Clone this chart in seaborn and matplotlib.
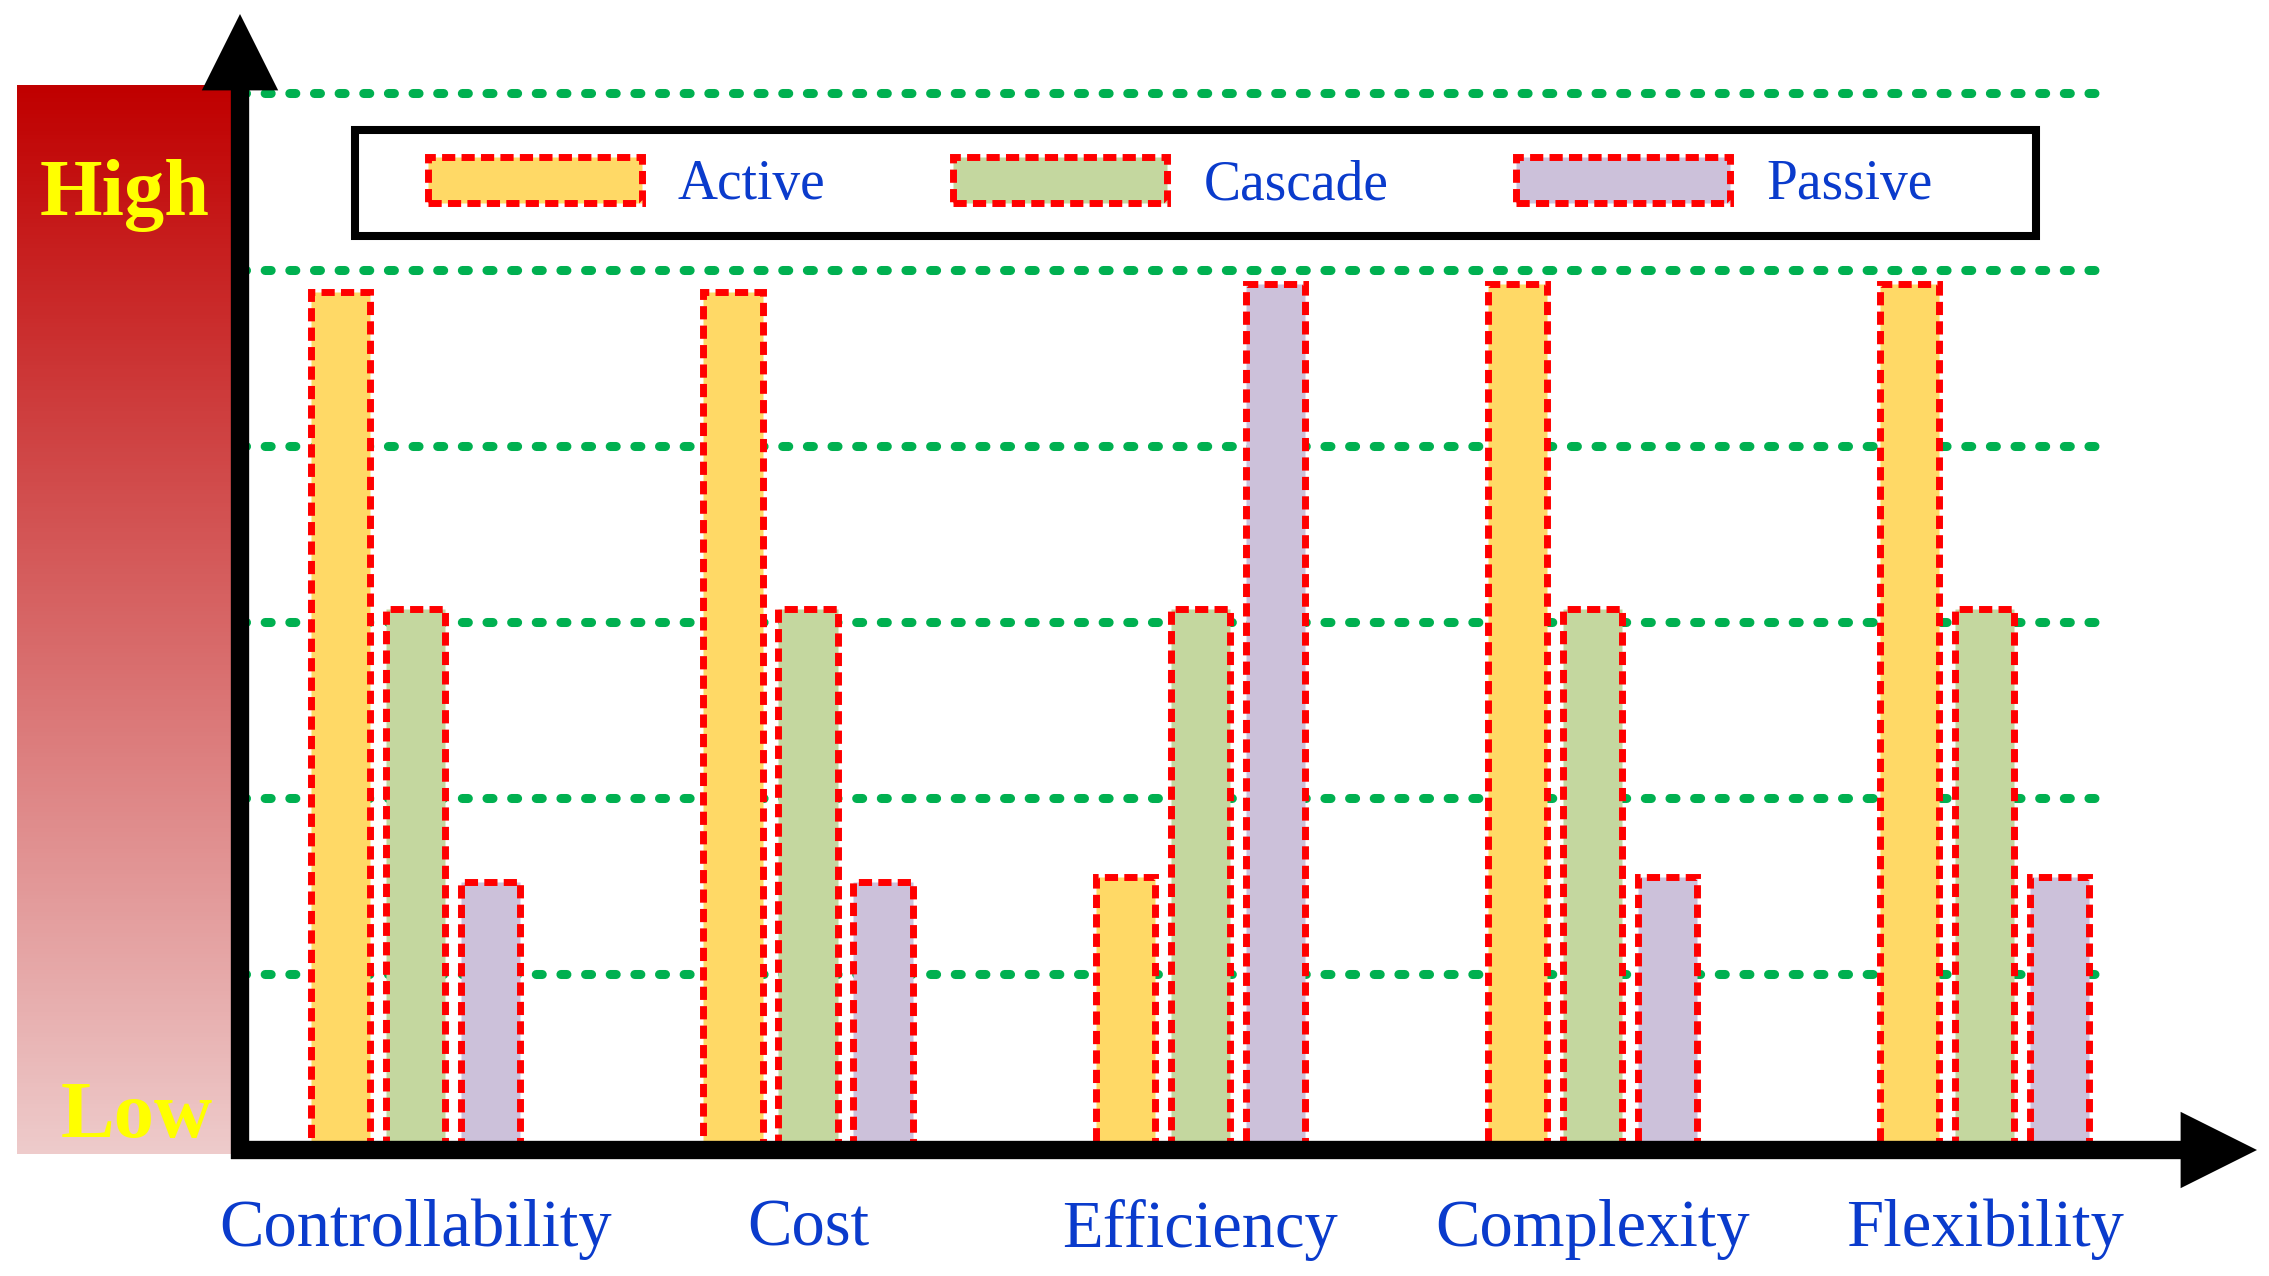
import numpy as np
import pandas as pd
import seaborn as sns
import matplotlib.pyplot as plt
from matplotlib.colors import LinearSegmentedColormap
from matplotlib.patches import Rectangle

# data (grid units, one unit per dotted line)
categories = ["Controllability", "Cost", "Efficiency", "Complexity", "Flexibility"]
series_names = ["Active", "Cascade", "Passive"]
active = [4.87, 4.87, 1.55, 4.92, 4.92]
cascade = [3.07, 3.07, 3.07, 3.07, 3.07]
passive = [1.52, 1.52, 4.92, 1.55, 1.55]
grid_levels = [1, 2, 3, 4, 5, 6]

colors = {"Active": "#FFD966", "Cascade": "#C4D79F", "Passive": "#CCC1DA"}
blue = "#0A3BCC"

df = pd.DataFrame({
    "Criterion": categories * 3,
    "Type": np.repeat(series_names, len(categories)),
    "Level": active + cascade + passive,
})

sns.set_style("white")
plt.rcParams["font.family"] = ["Liberation Serif", "DejaVu Serif"]

W, H = 2269, 1276
fig = plt.figure(figsize=(W / 100, H / 100), dpi=100)

# High -> Low gradient bar on the left
gax = fig.add_axes([17 / W, 1 - 1154 / H, 215 / W, 1069 / H])
cmap = LinearSegmentedColormap.from_list("hl", ["#EECBCB", "#C00000"])
gax.imshow(np.linspace(1, 0, 256).reshape(-1, 1), cmap=cmap, aspect="auto")
gax.axis("off")
fig.text(124.5 / W, 1 - 215 / H, "High", ha="center", va="baseline",
         fontsize=58, fontweight="bold", color="#FFFF00")
fig.text(137 / W, 1 - 1137 / H, "Low", ha="center", va="baseline",
         fontsize=58, fontweight="bold", color="#FFFF00")

# main chart
ax = fig.add_axes([240 / W, 1 - 1150 / H, 2017 / W, 1136 / H])
ax.patch.set_alpha(0)

sns.barplot(data=df, x="Criterion", y="Level", hue="Type",
            order=categories, hue_order=series_names, palette=colors,
            saturation=1, errorbar=None, width=0.573, gap=0.21,
            edgecolor="red", linewidth=5, linestyle=(0, (1.9, 0.9)),
            legend=False, zorder=2, ax=ax)

for lv in grid_levels:
    ax.axhline(lv, xmin=0, xmax=(2095 - 240) / 2017, color="#00B050", lw=6.5,
               linestyle=(0, (0.67, 2.06)), dash_capstyle="round", zorder=1)

ax.set_xlim(-0.448, 4.694)
ax.set_ylim(0, 1136 / 176.1)
ax.set_yticks([])
ax.set_xlabel("")
ax.set_ylabel("")
for s in ax.spines.values():
    s.set_visible(False)
ax.tick_params(axis="x", length=0, pad=35, labelsize=48, labelcolor=blue)

# axis arrows
arrow = dict(arrowstyle="simple,head_length=1,head_width=1,tail_width=0.24",
             mutation_scale=55, fc="black", ec="black", lw=0,
             shrinkA=0, shrinkB=0)
ax.annotate("", xy=(0, 1), xytext=(0, -9 / 1136), xycoords="axes fraction",
            arrowprops=arrow, annotation_clip=False, zorder=3)
ax.annotate("", xy=(1, 0), xytext=(-9 / 2017, 0), xycoords="axes fraction",
            arrowprops=arrow, annotation_clip=False, zorder=3)

# legend with a black box around it
handles = [cont[0] for cont in ax.containers]
fig.legend(handles, series_names, loc="center left",
           bbox_to_anchor=(428 / W, 1 - 184 / H), ncol=3, frameon=False,
           fontsize=40, handlelength=3.85, handleheight=0.9,
           handletextpad=0.65, columnspacing=2.3, borderpad=0,
           borderaxespad=0, labelcolor=blue)
fig.add_artist(Rectangle((355 / W, 1 - 236 / H), (2036 - 355) / W, 106 / H,
                         transform=fig.transFigure, fill=False,
                         edgecolor="black", lw=5.8))

fig.savefig("out.png", dpi=100)
